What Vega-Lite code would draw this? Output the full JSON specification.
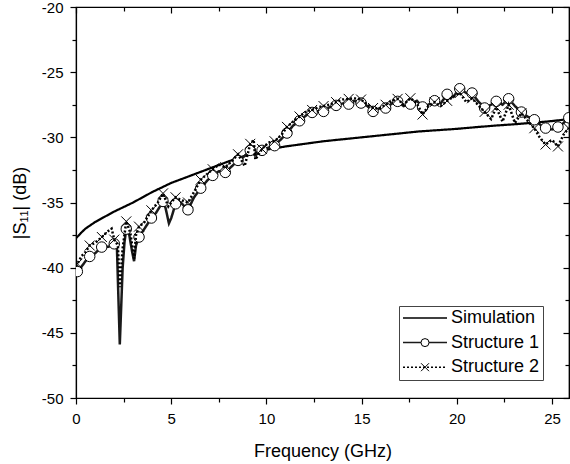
{
  "$schema": "https://vega.github.io/schema/vega-lite/v6.json",
  "width": 493,
  "height": 391,
  "autosize": "none",
  "padding": {"left": 76, "top": 7, "right": 1, "bottom": 66},
  "background": "white",
  "config": {
    "font": "Liberation Sans",
    "view": {"stroke": "black", "strokeWidth": 1.2},
    "axis": {"grid": false, "domainColor": "black", "domainWidth": 1.2, "tickColor": "black", "tickWidth": 1.2, "labelColor": "black", "titleColor": "black", "labelFont": "Liberation Sans", "titleFont": "Liberation Sans", "titleFontWeight": "normal", "labelFontSize": 15, "titleFontSize": 18}
  },
  "datasets": {
    "sim": [
      {"f": 0, "db": -37.75}, {"f": 0.25, "db": -37.35}, {"f": 0.5, "db": -37.0}, {"f": 1.0, "db": -36.5}, {"f": 1.5, "db": -36.1}, {"f": 2, "db": -35.7}, {"f": 2.5, "db": -35.35}, {"f": 3, "db": -35.0}, {"f": 3.5, "db": -34.6}, {"f": 4, "db": -34.2}, {"f": 5, "db": -33.5}, {"f": 6, "db": -32.95}, {"f": 7, "db": -32.4}, {"f": 8, "db": -31.85}, {"f": 9, "db": -31.35}, {"f": 10, "db": -30.95}, {"f": 11, "db": -30.7}, {"f": 12, "db": -30.5}, {"f": 13, "db": -30.3}, {"f": 14, "db": -30.15}, {"f": 15, "db": -30.0}, {"f": 16, "db": -29.85}, {"f": 17, "db": -29.7}, {"f": 18, "db": -29.55}, {"f": 19, "db": -29.45}, {"f": 20, "db": -29.35}, {"f": 21, "db": -29.22}, {"f": 22, "db": -29.1}, {"f": 23, "db": -29.0}, {"f": 24, "db": -28.88}, {"f": 25, "db": -28.75}, {"f": 25.89, "db": -28.6}
    ],
    "s1": [
      {"f": 0.0, "db": -40.4}, {"f": 0.07, "db": -40.3}, {"f": 0.3, "db": -39.9}, {"f": 0.5, "db": -39.5}, {"f": 0.72, "db": -39.14}, {"f": 1.0, "db": -38.9}, {"f": 1.35, "db": -38.42}, {"f": 1.7, "db": -38.4}, {"f": 2.01, "db": -38.17}, {"f": 2.15, "db": -38.5}, {"f": 2.3, "db": -45.9}, {"f": 2.45, "db": -40.0}, {"f": 2.55, "db": -38.0}, {"f": 2.64, "db": -37.04}, {"f": 2.8, "db": -37.5}, {"f": 2.95, "db": -38.8}, {"f": 3.05, "db": -39.5}, {"f": 3.15, "db": -38.3}, {"f": 3.31, "db": -37.65}, {"f": 3.6, "db": -37.0}, {"f": 3.96, "db": -36.19}, {"f": 4.2, "db": -35.8}, {"f": 4.57, "db": -34.92}, {"f": 4.7, "db": -35.4}, {"f": 4.88, "db": -36.6}, {"f": 5.0, "db": -36.2}, {"f": 5.23, "db": -35.1}, {"f": 5.5, "db": -35.0}, {"f": 5.88, "db": -35.56}, {"f": 6.2, "db": -34.6}, {"f": 6.55, "db": -33.9}, {"f": 6.9, "db": -33.3}, {"f": 7.18, "db": -32.92}, {"f": 7.5, "db": -32.6}, {"f": 7.84, "db": -32.69}, {"f": 8.2, "db": -32.2}, {"f": 8.51, "db": -31.77}, {"f": 8.8, "db": -31.5}, {"f": 9.15, "db": -31.0}, {"f": 9.4, "db": -31.4}, {"f": 9.77, "db": -31.0}, {"f": 10.1, "db": -30.8}, {"f": 10.43, "db": -30.64}, {"f": 10.8, "db": -30.1}, {"f": 11.08, "db": -29.67}, {"f": 11.4, "db": -29.1}, {"f": 11.74, "db": -28.73}, {"f": 12.1, "db": -28.3}, {"f": 12.4, "db": -28.09}, {"f": 12.7, "db": -28.0}, {"f": 13.0, "db": -28.01}, {"f": 13.3, "db": -27.7}, {"f": 13.66, "db": -27.55}, {"f": 14.0, "db": -27.4}, {"f": 14.32, "db": -27.45}, {"f": 14.6, "db": -27.2}, {"f": 14.97, "db": -27.37}, {"f": 15.3, "db": -27.6}, {"f": 15.6, "db": -28.01}, {"f": 15.9, "db": -27.8}, {"f": 16.26, "db": -27.75}, {"f": 16.6, "db": -27.4}, {"f": 16.89, "db": -27.24}, {"f": 17.2, "db": -27.6}, {"f": 17.56, "db": -27.45}, {"f": 17.9, "db": -27.2}, {"f": 18.2, "db": -27.67}, {"f": 18.5, "db": -27.5}, {"f": 18.83, "db": -27.19}, {"f": 19.15, "db": -27.4}, {"f": 19.49, "db": -26.7}, {"f": 19.8, "db": -26.9}, {"f": 20.15, "db": -26.27}, {"f": 20.5, "db": -26.6}, {"f": 20.8, "db": -26.6}, {"f": 21.1, "db": -27.2}, {"f": 21.46, "db": -27.75}, {"f": 21.8, "db": -27.5}, {"f": 22.07, "db": -27.24}, {"f": 22.4, "db": -27.5}, {"f": 22.72, "db": -27.04}, {"f": 23.05, "db": -27.6}, {"f": 23.39, "db": -28.06}, {"f": 23.7, "db": -28.4}, {"f": 24.07, "db": -28.65}, {"f": 24.35, "db": -29.0}, {"f": 24.66, "db": -29.29}, {"f": 25.0, "db": -29.4}, {"f": 25.31, "db": -29.21}, {"f": 25.6, "db": -28.9}, {"f": 25.88, "db": -28.5}
    ],
    "s1m": [
      {"f": 0.07, "db": -40.3}, {"f": 0.72, "db": -39.14}, {"f": 1.35, "db": -38.42}, {"f": 2.01, "db": -38.17}, {"f": 2.64, "db": -37.04}, {"f": 3.31, "db": -37.65}, {"f": 3.96, "db": -36.19}, {"f": 4.57, "db": -34.92}, {"f": 5.23, "db": -35.1}, {"f": 5.88, "db": -35.56}, {"f": 6.55, "db": -33.9}, {"f": 7.18, "db": -32.92}, {"f": 7.84, "db": -32.69}, {"f": 8.51, "db": -31.77}, {"f": 9.15, "db": -31.0}, {"f": 9.77, "db": -31.0}, {"f": 10.43, "db": -30.64}, {"f": 11.08, "db": -29.67}, {"f": 11.74, "db": -28.73}, {"f": 12.4, "db": -28.09}, {"f": 13.0, "db": -28.01}, {"f": 13.66, "db": -27.55}, {"f": 14.32, "db": -27.45}, {"f": 14.97, "db": -27.37}, {"f": 15.6, "db": -28.01}, {"f": 16.26, "db": -27.75}, {"f": 16.89, "db": -27.24}, {"f": 17.56, "db": -27.45}, {"f": 18.2, "db": -27.67}, {"f": 18.83, "db": -27.19}, {"f": 19.49, "db": -26.7}, {"f": 20.15, "db": -26.27}, {"f": 20.8, "db": -26.6}, {"f": 21.46, "db": -27.75}, {"f": 22.07, "db": -27.24}, {"f": 22.72, "db": -27.04}, {"f": 23.39, "db": -28.06}, {"f": 24.07, "db": -28.65}, {"f": 24.66, "db": -29.29}, {"f": 25.31, "db": -29.21}, {"f": 25.88, "db": -28.5}
    ],
    "s2": [
      {"f": 0.0, "db": -39.9}, {"f": 0.07, "db": -39.7}, {"f": 0.3, "db": -39.1}, {"f": 0.5, "db": -38.8}, {"f": 0.72, "db": -38.3}, {"f": 1.0, "db": -38.1}, {"f": 1.36, "db": -37.65}, {"f": 1.6, "db": -37.3}, {"f": 1.87, "db": -37.0}, {"f": 2.01, "db": -37.85}, {"f": 2.2, "db": -38.3}, {"f": 2.3, "db": -41.5}, {"f": 2.45, "db": -38.5}, {"f": 2.64, "db": -36.45}, {"f": 2.85, "db": -37.3}, {"f": 3.05, "db": -39.3}, {"f": 3.15, "db": -37.5}, {"f": 3.31, "db": -36.85}, {"f": 3.6, "db": -36.5}, {"f": 3.96, "db": -35.6}, {"f": 4.3, "db": -35.0}, {"f": 4.57, "db": -34.3}, {"f": 4.85, "db": -35.3}, {"f": 5.0, "db": -35.0}, {"f": 5.23, "db": -34.6}, {"f": 5.5, "db": -34.8}, {"f": 5.88, "db": -35.0}, {"f": 6.2, "db": -34.2}, {"f": 6.55, "db": -33.25}, {"f": 6.9, "db": -32.8}, {"f": 7.18, "db": -32.45}, {"f": 7.5, "db": -32.1}, {"f": 7.84, "db": -32.3}, {"f": 8.2, "db": -31.8}, {"f": 8.51, "db": -31.3}, {"f": 8.86, "db": -32.2}, {"f": 9.15, "db": -30.5}, {"f": 9.33, "db": -30.2}, {"f": 9.42, "db": -31.7}, {"f": 9.77, "db": -30.9}, {"f": 10.1, "db": -30.4}, {"f": 10.43, "db": -30.3}, {"f": 10.8, "db": -29.8}, {"f": 11.08, "db": -29.2}, {"f": 11.4, "db": -28.8}, {"f": 11.74, "db": -28.4}, {"f": 12.1, "db": -28.0}, {"f": 12.4, "db": -27.9}, {"f": 12.7, "db": -27.7}, {"f": 13.0, "db": -27.6}, {"f": 13.3, "db": -27.5}, {"f": 13.66, "db": -27.3}, {"f": 14.0, "db": -27.1}, {"f": 14.32, "db": -27.05}, {"f": 14.6, "db": -27.0}, {"f": 14.97, "db": -27.1}, {"f": 15.3, "db": -27.5}, {"f": 15.6, "db": -27.75}, {"f": 15.9, "db": -27.8}, {"f": 16.26, "db": -27.5}, {"f": 16.6, "db": -27.2}, {"f": 16.89, "db": -27.05}, {"f": 17.2, "db": -27.5}, {"f": 17.56, "db": -27.0}, {"f": 17.9, "db": -27.4}, {"f": 18.2, "db": -28.25}, {"f": 18.5, "db": -27.6}, {"f": 18.83, "db": -27.3}, {"f": 19.15, "db": -27.6}, {"f": 19.49, "db": -27.2}, {"f": 19.8, "db": -26.9}, {"f": 20.15, "db": -26.6}, {"f": 20.5, "db": -27.3}, {"f": 20.8, "db": -27.0}, {"f": 21.1, "db": -27.5}, {"f": 21.46, "db": -28.05}, {"f": 21.8, "db": -28.6}, {"f": 22.07, "db": -27.7}, {"f": 22.4, "db": -28.8}, {"f": 22.72, "db": -27.5}, {"f": 23.05, "db": -28.9}, {"f": 23.39, "db": -28.15}, {"f": 23.7, "db": -28.7}, {"f": 24.07, "db": -29.3}, {"f": 24.35, "db": -30.0}, {"f": 24.66, "db": -30.55}, {"f": 25.0, "db": -30.2}, {"f": 25.31, "db": -30.7}, {"f": 25.6, "db": -29.8}, {"f": 25.87, "db": -29.3}
    ],
    "s2m": [
      {"f": 0.07, "db": -39.7}, {"f": 0.72, "db": -38.3}, {"f": 1.36, "db": -37.65}, {"f": 2.01, "db": -37.85}, {"f": 2.64, "db": -36.45}, {"f": 3.31, "db": -36.85}, {"f": 3.96, "db": -35.6}, {"f": 4.57, "db": -34.3}, {"f": 5.23, "db": -34.6}, {"f": 5.88, "db": -35.0}, {"f": 6.55, "db": -33.25}, {"f": 7.18, "db": -32.45}, {"f": 7.84, "db": -32.3}, {"f": 8.51, "db": -31.3}, {"f": 9.15, "db": -30.5}, {"f": 9.77, "db": -30.9}, {"f": 10.43, "db": -30.3}, {"f": 11.08, "db": -29.2}, {"f": 11.74, "db": -28.4}, {"f": 12.4, "db": -27.9}, {"f": 13.0, "db": -27.6}, {"f": 13.66, "db": -27.3}, {"f": 14.32, "db": -27.05}, {"f": 14.97, "db": -27.1}, {"f": 15.6, "db": -27.75}, {"f": 16.26, "db": -27.5}, {"f": 16.89, "db": -27.05}, {"f": 17.56, "db": -27.0}, {"f": 18.2, "db": -28.25}, {"f": 18.83, "db": -27.3}, {"f": 19.49, "db": -27.2}, {"f": 20.15, "db": -26.6}, {"f": 20.8, "db": -27.0}, {"f": 21.46, "db": -28.05}, {"f": 22.07, "db": -27.7}, {"f": 22.72, "db": -27.5}, {"f": 23.39, "db": -28.15}, {"f": 24.07, "db": -29.3}, {"f": 24.66, "db": -30.55}, {"f": 25.31, "db": -30.7}, {"f": 25.87, "db": -29.3}
    ]
  },
  "resolve": {"axis": {"x": "independent", "y": "independent"}},
  "layer": [
    {
      "data": {"name": "sim"},
      "mark": {"type": "line", "clip": true},
      "encoding": {
        "x": {"field": "f", "type": "quantitative", "scale": {"domain": [0, 25.89], "nice": false, "zero": false},
          "axis": {"orient": "bottom", "title": "Frequency (GHz)", "values": [0, 2.5, 5, 7.5, 10, 12.5, 15, 17.5, 20, 22.5, 25],
            "labelExpr": "datum.value % 5 === 0 ? '' + datum.value : ''",
            "tickSize": {"condition": {"test": "datum.value % 5 === 0", "value": 6}, "value": 4},
            "labelPadding": 7, "titlePadding": 16, "labelFlush": false, "labelOverlap": false}},
        "y": {"field": "db", "type": "quantitative", "scale": {"domain": [-50, -20], "nice": false, "zero": false},
          "axis": {"orient": "left", "title": "|S₁₁| (dB)", "values": [-50, -47.5, -45, -42.5, -40, -37.5, -35, -32.5, -30, -27.5, -25, -22.5, -20],
            "labelExpr": "datum.value % 5 === 0 ? '' + datum.value : ''",
            "tickSize": {"condition": {"test": "datum.value % 5 === 0", "value": 6}, "value": 4},
            "labelPadding": 7, "titlePadding": 12, "labelFlush": false, "labelOverlap": false}},
        "color": {"datum": "Simulation", "type": "nominal",
          "scale": {"domain": ["Simulation", "Structure 1", "Structure 2"], "range": ["black", "#1a1a1a", "black"]},
          "legend": {
            "title": null, "orient": "none", "legendX": 323, "legendY": 299,
            "direction": "vertical",
            "strokeColor": "#444", "fillColor": "white", "padding": 3,
            "labelFont": "Liberation Sans", "labelFontSize": 18, "labelColor": "black", "labelLimit": 300,
            "symbolType": "M-22,0H22", "symbolSize": 4, "symbolOffset": 14, "labelOffset": 17, "rowPadding": 6.6
          }},
        "strokeDash": {"datum": "Simulation", "type": "nominal",
          "scale": {"domain": ["Simulation", "Structure 1", "Structure 2"], "range": [[1, 0], [1, 0], [2, 2]]}},
        "strokeWidth": {"datum": "Simulation", "type": "nominal",
          "scale": {"type": "ordinal", "domain": ["Simulation", "Structure 1", "Structure 2"], "range": [2.2, 1, 1.1]}}
      }
    },
    {
      "data": {"name": "s1"},
      "mark": {"type": "line", "clip": true},
      "encoding": {
        "x": {"field": "f", "type": "quantitative",
          "axis": {"orient": "top", "title": null, "labels": false, "values": [0, 2.5, 5, 7.5, 10, 12.5, 15, 17.5, 20, 22.5, 25],
            "tickSize": {"condition": {"test": "datum.value % 5 === 0", "value": -6}, "value": -4}}},
        "y": {"field": "db", "type": "quantitative",
          "axis": {"orient": "right", "title": null, "labels": false, "values": [-50, -47.5, -45, -42.5, -40, -37.5, -35, -32.5, -30, -27.5, -25, -22.5, -20],
            "tickSize": {"condition": {"test": "datum.value % 5 === 0", "value": -6}, "value": -4}}},
        "color": {"datum": "Structure 1", "type": "nominal"},
        "strokeDash": {"datum": "Structure 1", "type": "nominal"},
        "strokeWidth": {"datum": "Structure 1", "type": "nominal"}
      }
    },
    {
      "data": {"name": "s1m"},
      "mark": {"type": "point", "size": 110, "filled": false, "fill": "white", "fillOpacity": 1, "stroke": "black", "strokeWidth": 1, "opacity": 1, "clip": true},
      "encoding": {
        "x": {"field": "f", "type": "quantitative", "axis": null},
        "y": {"field": "db", "type": "quantitative", "axis": null},
        "shape": {"datum": "Structure 1", "type": "nominal",
          "scale": {"domain": ["Structure 1", "Structure 2"], "range": ["circle", "M-1,-1L1,1M-1,1L1,-1"]},
          "legend": {
            "title": null, "orient": "none", "legendX": 337, "legendY": 323.6,
            "direction": "vertical", "padding": 3,
            "labelFont": "Liberation Sans", "labelFontSize": 18, "labelOpacity": 0, "labelLimit": 300,
            "symbolSize": 64, "symbolOffset": 0, "labelOffset": 17, "rowPadding": 6.6,
            "symbolStrokeWidth": 1, "symbolOpacity": 1
          }}
      }
    },
    {
      "data": {"name": "s2"},
      "mark": {"type": "line", "clip": true},
      "encoding": {
        "x": {"field": "f", "type": "quantitative", "axis": null},
        "y": {"field": "db", "type": "quantitative", "axis": null},
        "color": {"datum": "Structure 2", "type": "nominal"},
        "strokeDash": {"datum": "Structure 2", "type": "nominal"},
        "strokeWidth": {"datum": "Structure 2", "type": "nominal"}
      }
    },
    {
      "data": {"name": "s2m"},
      "mark": {"type": "point", "size": 100, "filled": false, "stroke": "black", "strokeWidth": 1, "opacity": 1, "clip": true},
      "encoding": {
        "x": {"field": "f", "type": "quantitative", "axis": null},
        "y": {"field": "db", "type": "quantitative", "axis": null},
        "shape": {"datum": "Structure 2", "type": "nominal"}
      }
    }
  ]
}
